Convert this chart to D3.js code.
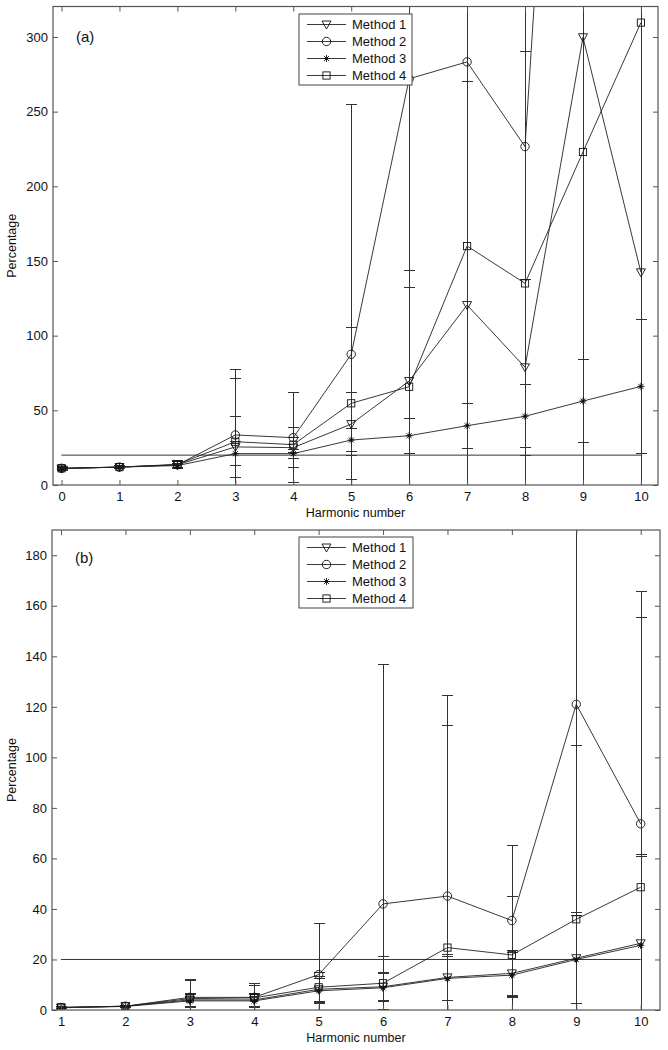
<!DOCTYPE html>
<html><head><meta charset="utf-8">
<script src="https://cdn.jsdelivr.net/npm/d3@7"></script>
<style>body{margin:0;background:#fff}svg{display:block}text{font-family:"Liberation Sans",Arial,Helvetica,sans-serif;fill:#111}</style>
</head><body>
<script>
// ---------- data ----------
const methodNames = ["Method 1", "Method 2", "Method 3", "Method 4"];
const markerTypes = ["triangle", "circle", "star", "square"];

// Panel (a)
const harmonicsA = [0, 1, 2, 3, 4, 5, 6, 7, 8, 9, 10];
const a_m1 = [11, 12, 13.5, 25.5, 25, 40.8, 69.6, 120.5, 78.8, 299.8, 142.4];
const a_m2 = [11.2, 12, 13.5, 33.5, 31.7, 87.5, 272, 283.3, 226.6, 830, 700];
const a_m3 = [11, 12, 13, 21, 21, 30.1, 33, 39.7, 46, 56.2, 66];
const a_m4 = [11.2, 12, 13.8, 29, 27, 54.7, 65.8, 160, 135, 223, 309.6];
const a_e1 = [1, 1, 2, 20.5, 13.2, 21.2, 73.9, 150, 59, 320, 200];
const a_e2 = [1, 1, 2.5, 44, 30.3, 167, 300, 300, 400, 900, 800];
const a_e3 = [0.8, 0.8, 1.5, 8, 3, 8, 11.7, 15, 21, 28, 45];
const a_e4 = [1, 1, 2.5, 42.4, 5, 51, 66.3, 200, 155, 250, 320];
const a_yTicks = [0, 50, 100, 150, 200, 250, 300];
const a_ref = 20;

// Panel (b)
const harmonicsB = [1, 2, 3, 4, 5, 6, 7, 8, 9, 10];
const b_m1 = [1, 1.5, 4, 4, 8.2, 9.2, 12.9, 14.5, 20.5, 26.4];
const b_m2 = [1, 1.5, 5, 5, 14, 42, 45.1, 35.4, 121, 73.7];
const b_m3 = [0.9, 1.4, 3.6, 3.6, 7.6, 8.8, 12.5, 13.8, 20, 25.6];
const b_m4 = [1, 1.5, 4.5, 4.8, 9, 10.6, 24.7, 21.8, 35.9, 48.6];
const b_e1 = [0.3, 0.3, 2.5, 2.5, 5, 5.6, 9, 9, 18, 35];
const b_e2 = [0.3, 0.4, 7, 5.5, 20.3, 94.6, 79.5, 29.6, 200, 92];
const b_e3 = [0.3, 0.3, 2.5, 2.5, 5, 5.6, 8.8, 8.8, 17.5, 35];
const b_e4 = [0.3, 0.4, 7, 5, 6, 10.5, 88, 23, 68.8, 106.8];
const b_yTicks = [0, 20, 40, 60, 80, 100, 120, 140, 160, 180];
const b_ref = 20;

// ---------- drawing ----------
const W = 668, H = 1050;
const svg = d3.select("body").append("svg").attr("width", W).attr("height", H);

function marker(g, type, x, y) {
  const s = g.append("g").attr("transform", `translate(${x},${y})`)
    .attr("fill", "none").attr("stroke", "#111").attr("stroke-width", 0.9);
  if (type === "triangle") s.append("path").attr("d", "M-4.5,-3.5L4.5,-3.5L0,4.5Z").attr("fill", "none");
  else if (type === "circle") s.append("circle").attr("r", 4.2);
  else if (type === "square") s.append("rect").attr("x", -3.6).attr("y", -3.6).attr("width", 7.2).attr("height", 7.2);
  else if (type === "star") {
    s.append("path").attr("d", "M-3.6,0L3.6,0M0,-3.6L0,3.6M-2.6,-2.6L2.6,2.6M-2.6,2.6L2.6,-2.6");
    s.append("rect").attr("x", -1.3).attr("y", -1.3).attr("width", 2.6).attr("height", 2.6).attr("fill", "#111").attr("stroke", "none");
  }
}

function panel(cfg) {
  const {id, box, xDomain, yDomain, xs, series, errs, yTicks, ref, label, legendBox} = cfg;
  const x = d3.scaleLinear().domain(xDomain).range([box.l, box.r]);
  const y = d3.scaleLinear().domain(yDomain).range([box.b, box.t]);
  const g = svg.append("g");
  const axisColor = "#555";

  // clip
  svg.append("clipPath").attr("id", "clip" + id).append("rect")
    .attr("x", box.l).attr("y", box.t).attr("width", box.r - box.l).attr("height", box.b - box.t);
  const data = g.append("g").attr("clip-path", `url(#clip${id})`);

  // reference line
  data.append("line").attr("x1", x(xs[0])).attr("x2", x(xs[xs.length - 1]))
    .attr("y1", y(ref)).attr("y2", y(ref)).attr("stroke", "#333").attr("stroke-width", 1);

  // error bars
  const cap = 5.5;
  const eb = data.append("g").attr("stroke", "#333").attr("stroke-width", 1).attr("shape-rendering", "crispEdges");
  series.forEach((vals, si) => {
    vals.forEach((v, i) => {
      const e = errs[si][i];
      const px = Math.round(x(xs[i])) + 0.5, hi = y(v + e), lo = y(v - e);
      eb.append("line").attr("x1", px).attr("x2", px).attr("y1", hi).attr("y2", lo);
      [hi, lo].forEach(py => eb.append("line").attr("x1", px - cap).attr("x2", px + cap)
        .attr("y1", py).attr("y2", py));
    });
  });

  // lines + markers
  const line = d3.line().x((d, i) => x(xs[i])).y(d => y(d));
  series.forEach((vals, si) => {
    data.append("path").attr("d", line(vals)).attr("fill", "none").attr("stroke", "#222").attr("stroke-width", 0.9);
    vals.forEach((v, i) => marker(data, markerTypes[si], x(xs[i]), y(v)));
  });

  // axes box
  g.append("rect").attr("x", box.l).attr("y", box.t).attr("width", box.r - box.l).attr("height", box.b - box.t)
    .attr("fill", "none").attr("stroke", axisColor).attr("stroke-width", 1.2);

  const xAxis = d3.axisBottom(x).tickValues(xs).tickSize(-5).tickPadding(7).tickFormat(d3.format("d"));
  const gx = g.append("g").attr("transform", `translate(0,${box.b})`).call(xAxis);
  const xTop = d3.axisTop(x).tickValues(xs).tickSize(-5).tickFormat("");
  const gxt = g.append("g").attr("transform", `translate(0,${box.t})`).call(xTop);
  const yAxis = d3.axisLeft(y).tickValues(yTicks).tickSize(-5).tickPadding(5).tickFormat(d3.format("d"));
  const gy = g.append("g").attr("transform", `translate(${box.l},0)`).call(yAxis);
  const yRight = d3.axisRight(y).tickValues(yTicks).tickSize(-5).tickFormat("");
  const gyr = g.append("g").attr("transform", `translate(${box.r},0)`).call(yRight);
  [gx, gxt, gy, gyr].forEach(a => {
    a.select(".domain").remove();
    a.selectAll(".tick line").attr("stroke", axisColor).attr("stroke-width", 1);
    a.selectAll(".tick text").attr("font-size", 13).attr("fill", "#111")
      .attr("font-family", '"Liberation Sans",Arial,sans-serif');
  });

  // labels
  g.append("text").attr("x", (box.l + box.r) / 2).attr("y", box.b + 32).attr("text-anchor", "middle")
    .attr("font-size", 12.5).text("Harmonic number");
  g.append("text").attr("transform", `translate(16,${(box.t + box.b) / 2}) rotate(-90)`).attr("text-anchor", "middle")
    .attr("font-size", 12.5).text("Percentage");
  g.append("text").attr("x", box.l + 23).attr("y", label.y).attr("font-size", 15).text(label.text);

  // legend
  const lb = legendBox;
  g.append("rect").attr("x", lb.x).attr("y", lb.y).attr("width", lb.w).attr("height", lb.h)
    .attr("fill", "#fff").attr("stroke", axisColor).attr("stroke-width", 1.1);
  methodNames.forEach((name, i) => {
    const ry = lb.y + 10.5 + i * 17;
    g.append("line").attr("x1", lb.x + 8).attr("x2", lb.x + 47).attr("y1", ry).attr("y2", ry)
      .attr("stroke", "#222").attr("stroke-width", 0.9);
    marker(g, markerTypes[i], lb.x + 27.5, ry);
    g.append("text").attr("x", lb.x + 53).attr("y", ry + 4.5).attr("font-size", 13).text(name);
  });
}

panel({
  id: "a",
  box: {l: 53, r: 658, t: 6.5, b: 485},
  xDomain: [-0.147, 10.295], yDomain: [0, 320.4],
  xs: harmonicsA, series: [a_m1, a_m2, a_m3, a_m4], errs: [a_e1, a_e2, a_e3, a_e4],
  yTicks: a_yTicks, ref: a_ref,
  label: {text: "(a)", y: 42},
  legendBox: {x: 299, y: 14, w: 113, h: 71}
});

panel({
  id: "b",
  box: {l: 52, r: 660, t: 530, b: 1010},
  xDomain: [0.86, 10.3], yDomain: [0, 190],
  xs: harmonicsB, series: [b_m1, b_m2, b_m3, b_m4], errs: [b_e1, b_e2, b_e3, b_e4],
  yTicks: b_yTicks, ref: b_ref,
  label: {text: "(b)", y: 563},
  legendBox: {x: 299, y: 537, w: 114, h: 71}
});
</script>
</body></html>
